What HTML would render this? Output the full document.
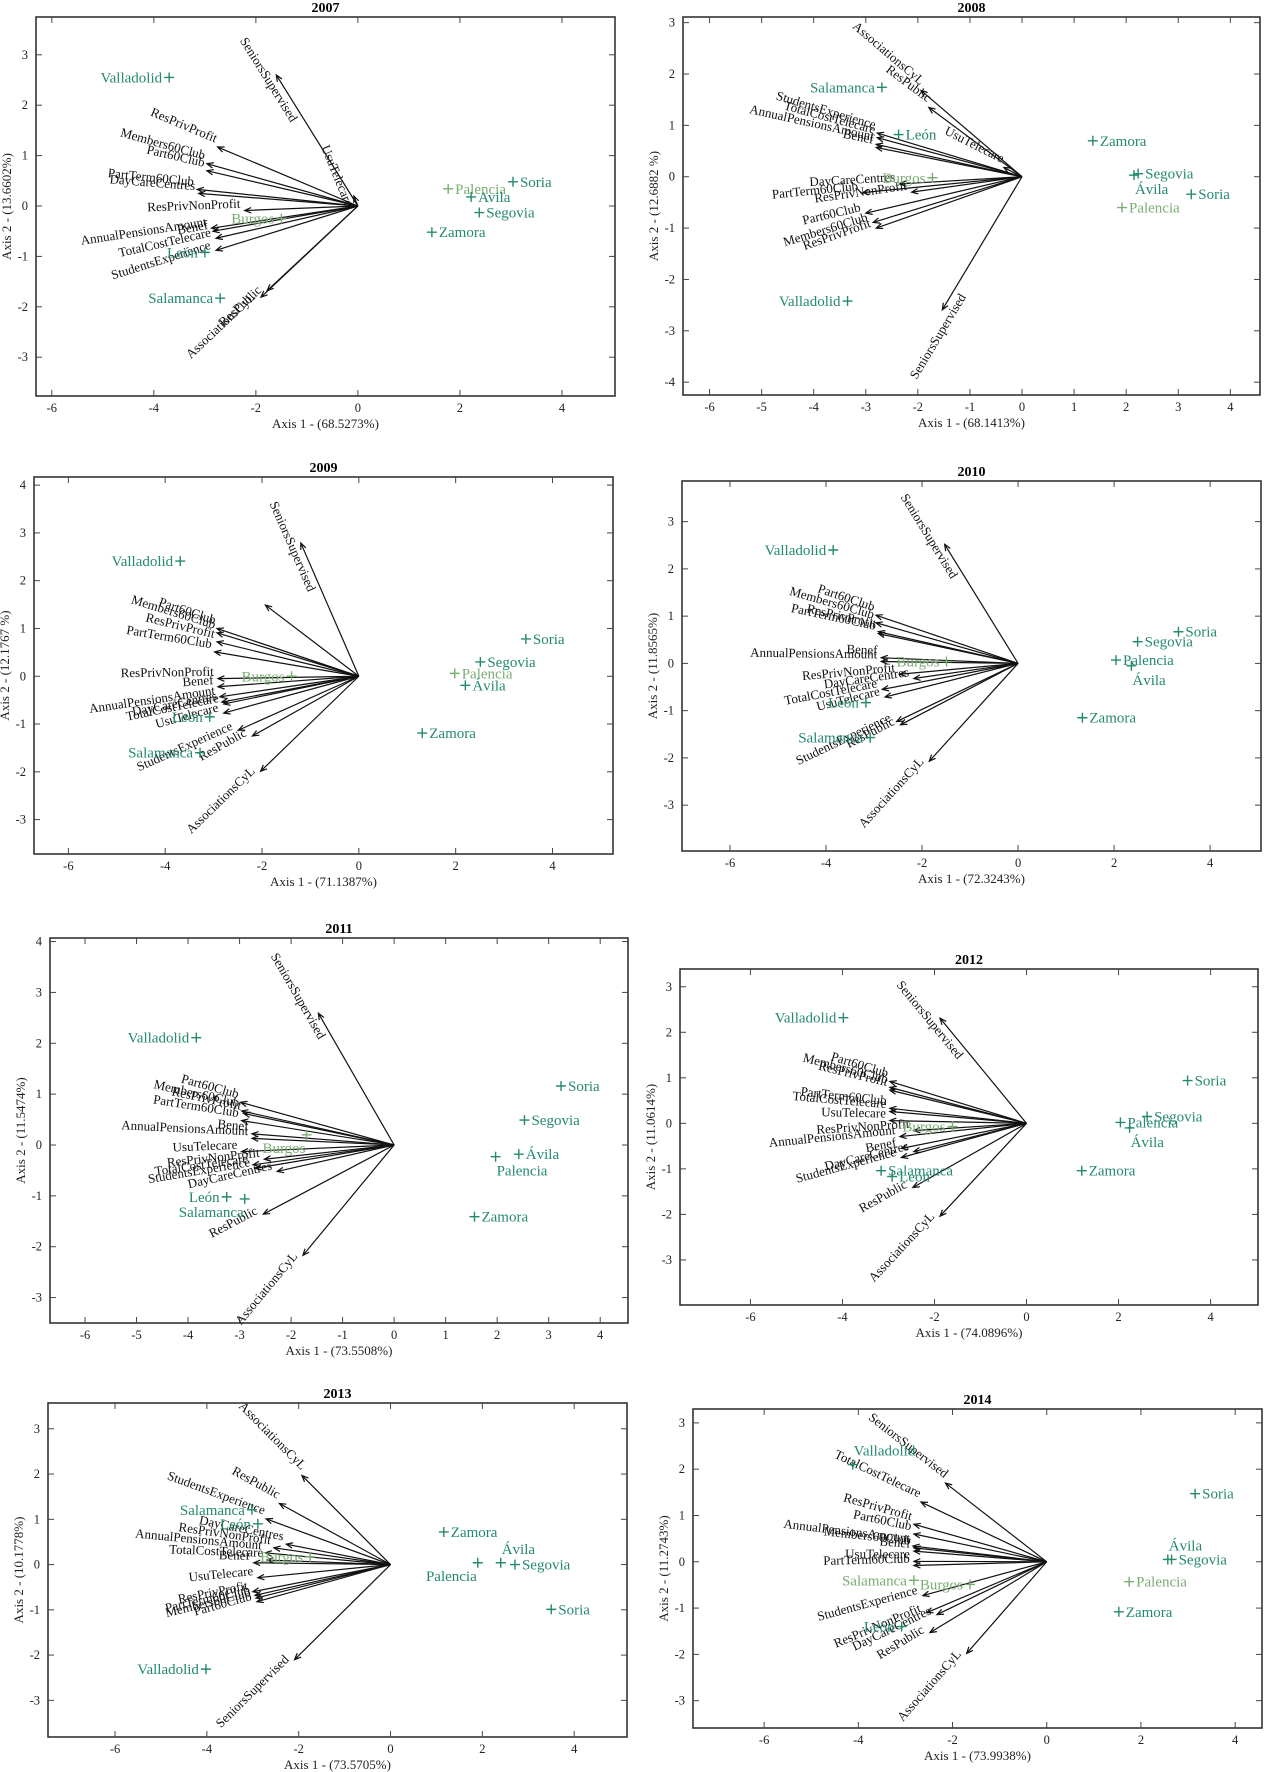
<!DOCTYPE html>
<html><head><meta charset="utf-8"><style>
html,body{margin:0;padding:0;background:#fff;}
svg{display:block;font-family:"Liberation Serif",serif;}
</style></head><body>
<svg id="fig" width="1265" height="1772" viewBox="0 0 1265 1772" xmlns="http://www.w3.org/2000/svg"></svg>
<script>
// ---- data: variable arrows [label, axis1, axis2, (optional) centred-label shifts] ----
const arr2007 = [["SeniorsSupervised",-1.6,2.6,0,13],["UsuTelecare",-0.08,0.2,25,12],["ResPrivProfit",-2.75,1.17],["Members60Club",-2.96,0.84],["Part60Club",-2.96,0.70],["PartTerm60Club",-3.15,0.33],["DayCareCentres",-3.12,0.25],["ResPrivNonProfit",-2.22,-0.09],["AnnualPensionsAmount",-2.87,-0.44],["Benef",-2.84,-0.50],["TotalCostTelecare",-2.78,-0.64],["StudentsExperience",-2.78,-0.88],["ResPublic",-1.78,-1.68],["AssociationsCyL",-1.9,-1.81]];
const arr2008 = [["AssociationsCyL",-1.94,1.68],["ResPublic",-1.79,1.35],["StudentsExperience",-2.78,0.85],["TotalCostTelecare",-2.78,0.76],["AnnualPensionsAmount",-2.80,0.63],["Benef",-2.80,0.57],["UsuTelecare",-0.35,0.18],["DayCareCentres",-2.35,-0.14],["ResPrivNonProfit",-2.12,-0.30],["PartTerm60Club",-3.06,-0.31],["Part60Club",-3.0,-0.71],["Members60Club",-2.86,-0.89],["ResPrivProfit",-2.80,-1.0],["SeniorsSupervised",-1.53,-2.59,25,14]];
const arr2009 = [["SeniorsSupervised",-1.20,2.79,0,13],["",-1.93,1.49],["Part60Club",-2.93,1.0],["Members60Club",-2.93,0.91],["ResPrivProfit",-2.93,0.72],["PartTerm60Club",-2.98,0.51],["ResPrivNonProfit",-2.91,-0.05],["Benef",-2.91,-0.22],["AnnualPensionsAmount",-2.87,-0.43],["DayCareCentres",-2.83,-0.54],["TotalCostTelecare",-2.79,-0.58],["UsuTelecare",-2.79,-0.77],["StudentsExperience",-2.49,-1.13],["ResPublic",-2.2,-1.25],["AssociationsCyL",-2.03,-1.99]];
const arr2010 = [["SeniorsSupervised",-1.53,2.52,15,13],["Part60Club",-2.96,1.02],["Members60Club",-2.96,0.86],["ResPrivProfit",-2.91,0.67],["PartTerm60Club",-2.91,0.63],["Benef",-2.85,0.12],["AnnualPensionsAmount",-2.85,0.04],["ResPrivNonProfit",-2.47,-0.23],["DayCareCentres",-2.17,-0.32],["TotalCostTelecare",-2.83,-0.55],["UsuTelecare",-2.77,-0.71],["StudentsExperience",-2.53,-1.23],["ResPublic",-2.45,-1.3],["AssociationsCyL",-1.85,-2.07]];
const arr2011 = [["SeniorsSupervised",-1.47,2.59,25,13],["Part60Club",-2.98,0.84],["Members60Club",-2.96,0.67],["ResPrivProfit",-2.92,0.62],["PartTerm60Club",-2.96,0.48],["Benef",-2.76,0.22],["AnnualPensionsAmount",-2.76,0.13],["UsuTelecare",-2.96,-0.13],["ResPrivNonProfit",-2.52,-0.28],["TotalCostTelecare",-2.74,-0.39],["StudentsExperience",-2.70,-0.46],["DayCareCentres",-2.27,-0.52],["ResPublic",-2.54,-1.36],["AssociationsCyL",-1.77,-2.17]];
const arr2012 = [["SeniorsSupervised",-1.88,2.31,5,13],["Part60Club",-2.97,0.92],["Members60Club",-2.97,0.79],["ResPrivProfit",-2.97,0.73],["PartTerm60Club",-2.97,0.33],["TotalCostTelecare",-2.97,0.26],["UsuTelecare",-2.97,0.06],["ResPrivNonProfit",-2.45,-0.16],["AnnualPensionsAmount",-2.75,-0.29],["Benef",-2.72,-0.55],["DayCareCentres",-2.45,-0.62],["StudentsExperience",-2.72,-0.75],["ResPublic",-2.47,-1.41],["AssociationsCyL",-1.88,-2.04]];
const arr2013 = [["AssociationsCyL",-1.93,1.97],["ResPublic",-2.42,1.35],["StudentsExperience",-2.71,1.01],["DayCareCentres",-2.27,0.45],["ResPrivNonProfit",-2.54,0.37],["AnnualPensionsAmount",-2.73,0.26],["TotalCostTelecare",-2.69,0.10],["Benef",-2.98,0.04],["UsuTelecare",-2.89,-0.29],["ResPrivProfit",-3.0,-0.60],["PartTerm60Club",-2.95,-0.68],["Members60Club",-2.93,-0.74],["Part60Club",-2.91,-0.82],["SeniorsSupervised",-2.09,-2.10]];
const arr2014 = [["SeniorsSupervised",-2.15,1.70],["TotalCostTelecare",-2.67,1.29],["ResPrivProfit",-2.82,0.81],["Part60Club",-2.82,0.60],["AnnualPensionsAmount",-2.84,0.34],["Members60Club",-2.82,0.30],["Benef",-2.82,0.23],["UsuTelecare",-2.82,0.01],["PartTerm60Club",-2.82,-0.08],["StudentsExperience",-2.63,-0.73],["ResPrivNonProfit",-2.55,-1.10],["DayCareCentres",-2.33,-1.14],["ResPublic",-2.48,-1.53],["AssociationsCyL",-1.70,-1.98]];
// ---- data: provinces [name, axis1, axis2, labelSide, light] ----
const city2007 = [["Valladolid",-3.70,2.55,"L",0],["Palencia",1.77,0.34,"R",1],["Soria",3.04,0.48,"R",0],["Avila",2.22,0.18,"R",0],["Segovia",2.38,-0.13,"R",0],["Zamora",1.45,-0.52,"R",0],["Burgos",-1.5,-0.25,"L",1],["León",-3.0,-0.92,"L",0],["Salamanca",-2.70,-1.83,"L",0]];
const city2008 = [["Salamanca",-2.69,1.74,"L",0],["León",-2.37,0.82,"R",0],["Zamora",1.36,0.70,"R",0],["Segovia",2.23,0.06,"R",0],["Ávila",2.15,0.03,"B",0],["Soria",3.25,-0.34,"R",0],["Palencia",1.92,-0.60,"R",1],["Burgos",-1.72,-0.02,"L",1],["Valladolid",-3.35,-2.42,"L",0]];
const city2009 = [["Valladolid",-3.69,2.41,"L",0],["Soria",3.45,0.78,"R",0],["Segovia",2.51,0.30,"R",0],["Palencia",1.98,0.06,"R",1],["Ávila",2.20,-0.19,"R",0],["Zamora",1.31,-1.19,"R",0],["Burgos",-1.39,0.0,"L",1],["León",-3.08,-0.85,"L",0],["Salamanca",-3.28,-1.60,"L",0]];
const city2010 = [["Valladolid",-3.85,2.40,"L",0],["Soria",3.34,0.67,"R",0],["Segovia",2.49,0.46,"R",0],["Palencia",2.04,0.07,"R",0],["Ávila",2.36,-0.05,"B",0],["Zamora",1.34,-1.15,"R",0],["Burgos",-1.49,0.04,"L",1],["León",-3.17,-0.83,"L",0],["Salamanca",-3.08,-1.57,"L",0]];
const city2011 = [["Valladolid",-3.84,2.11,"L",0],["Soria",3.24,1.16,"R",0],["Segovia",2.53,0.49,"R",0],["Ávila",2.42,-0.18,"R",0],["Palencia",1.97,-0.23,"B",0],["Zamora",1.56,-1.41,"R",0],["Burgos",-1.70,0.20,"BL",1],["León",-3.25,-1.02,"L",0],["Salamanca",-2.90,-1.06,"BL",0]];
const city2012 = [["Valladolid",-3.98,2.32,"L",0],["Soria",3.50,0.94,"R",0],["Segovia",2.62,0.15,"R",0],["Palencia",2.04,0.02,"R",0],["Ávila",2.24,-0.10,"B",0],["Zamora",1.20,-1.04,"R",0],["Burgos",-1.61,-0.07,"L",1],["Salamanca",-3.16,-1.04,"R",0],["León",-2.92,-1.17,"R",0]];
const city2013 = [["Salamanca",-3.02,1.21,"L",0],["León",-2.89,0.90,"L",0],["Zamora",1.16,0.72,"R",0],["Ávila",2.40,0.04,"A",0],["Segovia",2.71,0.0,"R",0],["Palencia",1.90,0.04,"BL",0],["Soria",3.50,-0.99,"R",0],["Valladolid",-4.02,-2.31,"L",0],["Burgos",-1.75,0.17,"L",1]];
const city2014 = [["Valladolid",-4.12,2.10,"A",0],["Soria",3.15,1.47,"R",0],["Ávila",2.57,0.05,"A",0],["Segovia",2.65,0.05,"R",0],["Palencia",1.75,-0.43,"R",1],["Zamora",1.53,-1.08,"R",0],["Salamanca",-2.82,-0.40,"L",1],["Burgos",-1.63,-0.49,"L",1],["León",-3.08,-1.40,"L",0]];
// ---- tick values and axis titles ----
const xTicks2 = [-6,-4,-2,0,2,4];
const xTicks1 = [-6,-5,-4,-3,-2,-1,0,1,2,3,4];
const yTicks33 = [-3,-2,-1,0,1,2,3];
const yTicks43 = [-4,-3,-2,-1,0,1,2,3];
const yTicks34 = [-3,-2,-1,0,1,2,3,4];
const years = ["2007","2008","2009","2010","2011","2012","2013","2014"];
const axis1Titles = ["Axis 1 - (68.5273%)","Axis 1 - (68.1413%)","Axis 1 - (71.1387%)","Axis 1 - (72.3243%)","Axis 1 - (73.5508%)","Axis 1 - (74.0896%)","Axis 1 - (73.5705%)","Axis 1 - (73.9938%)"];
const axis2Titles = ["Axis 2 - (13.6602%)","Axis 2 - (12.6882 %)","Axis 2 - (12.1767 %)","Axis 2 - (11.8565%)","Axis 2 - (11.5474%)","Axis 2 - (11.0614%)","Axis 2 - (10.1778%)","Axis 2 - (11.2743%)"];

// ---- layout (pixel frames, domains) ----
const panels = [
 {arr:arr2007,city:city2007,xt:xTicks2,yt:yTicks33,L:36,R:615,T:17,B:396,xd:[-6.31,5.04],yd:[-3.77,3.75]},
 {arr:arr2008,city:city2008,xt:xTicks1,yt:yTicks43,L:683,R:1260,T:17,B:395,xd:[-6.51,4.57],yd:[-4.25,3.11]},
 {arr:arr2009,city:city2009,xt:xTicks2,yt:yTicks34,L:34,R:613,T:477,B:854,xd:[-6.71,5.25],yd:[-3.72,4.17]},
 {arr:arr2010,city:city2010,xt:xTicks2,yt:yTicks33,L:682,R:1261,T:481,B:851,xd:[-7.0,5.06],yd:[-3.97,3.86]},
 {arr:arr2011,city:city2011,xt:xTicks1,yt:yTicks34,L:50,R:628,T:938,B:1323,xd:[-6.68,4.54],yd:[-3.50,4.07]},
 {arr:arr2012,city:city2012,xt:xTicks2,yt:yTicks33,L:680,R:1258,T:969,B:1305,xd:[-7.53,5.03],yd:[-3.99,3.39]},
 {arr:arr2013,city:city2013,xt:xTicks2,yt:yTicks33,L:48,R:627,T:1403,B:1737,xd:[-7.46,5.15],yd:[-3.81,3.57]},
 {arr:arr2014,city:city2014,xt:xTicks2,yt:yTicks33,L:693,R:1262,T:1409,B:1728,xd:[-7.51,4.57],yd:[-3.59,3.30]}
];
const NS="http://www.w3.org/2000/svg";
const svg=document.getElementById("fig");
function mk(tag,attrs,parent){const e=document.createElementNS(NS,tag);for(const k in attrs)e.setAttribute(k,attrs[k]);(parent||svg).appendChild(e);return e;}
const TEAL="#24896f", LIGHT="#7aad72";

panels.forEach((p,i)=>{
  const g=mk("g",{});
  
  
  const sx=v=>p.L+(v-p.xd[0])/(p.xd[1]-p.xd[0])*(p.R-p.L);
  const sy=v=>p.B-(v-p.yd[0])/(p.yd[1]-p.yd[0])*(p.B-p.T);
  const t=mk("text",{x:(p.L+p.R)/2,y:p.T-5,"text-anchor":"middle","font-size":"14","font-weight":"bold"},g);
  t.textContent=years[i];
  
  
  const fr=mk("rect",{x:p.L,y:p.T,width:p.R-p.L,height:p.B-p.T,fill:"none",stroke:"#333","stroke-width":"1.6"},g);
  
  
  p.xt.forEach(v=>{
    const x=sx(v);
    mk("line",{x1:x,y1:p.B,x2:x,y2:p.B-6,stroke:"#444"},g);
    mk("line",{x1:x,y1:p.T,x2:x,y2:p.T+6,stroke:"#444"},g);
    const tl=mk("text",{x:x,y:p.B+16,"text-anchor":"middle","font-size":"12.5",fill:"#222"},g);
    tl.textContent=String(v);
    
    
  });
  p.yt.forEach(v=>{
    const y=sy(v);
    mk("line",{x1:p.L,y1:y,x2:p.L+6,y2:y,stroke:"#444"},g);
    mk("line",{x1:p.R,y1:y,x2:p.R-6,y2:y,stroke:"#444"},g);
    const tl=mk("text",{x:p.L-8,y:y+4,"text-anchor":"end","font-size":"12.5",fill:"#222"},g);
    tl.textContent=String(v);
    
    
  });
  const xt=mk("text",{x:(p.L+p.R)/2,y:p.B+32,"text-anchor":"middle","font-size":"13",fill:"#222"},g);
  xt.textContent=axis1Titles[i];
  
  
  const yx=p.L-25, yy=(p.T+p.B)/2;
  const yt=mk("text",{x:yx,y:yy,"text-anchor":"middle","font-size":"13",fill:"#222",transform:`rotate(-90 ${yx} ${yy})`},g);
  yt.textContent=axis2Titles[i];
  
  
  const ox=sx(0), oy=sy(0);
  p.arr.forEach(a=>{
    const tx=sx(a[1]), ty=sy(a[2]);
    const ang=Math.atan2(oy-ty,ox-tx);
    const h=7, w=0.4;
    const ln=mk("path",{d:`M${ox},${oy}L${tx},${ty}M${tx+h*Math.cos(ang+w)},${ty+h*Math.sin(ang+w)}L${tx},${ty}L${tx+h*Math.cos(ang-w)},${ty+h*Math.sin(ang-w)}`,stroke:"#111","stroke-width":"1.2",fill:"none"},g);
    
    
    if(a[0]){
      const deg=ang*180/Math.PI;
      let attrs;
      if(a.length>3){
        attrs={x:tx-a[3],y:ty+a[4],"text-anchor":"middle"};
      } else {
        attrs={x:tx-4,y:ty-3,"text-anchor":"end"};
      }
      attrs["font-size"]="13"; attrs.fill="#111"; attrs.transform=`rotate(${deg} ${tx} ${ty})`;
      const lb=mk("text",attrs,g);
      lb.textContent=a[0];
      
      
    }
  });
  p.city.forEach(c=>{
    const x=sx(c[1]), y=sy(c[2]);
    const col=c[4]?LIGHT:TEAL;
    const pl=mk("path",{d:`M${x-5},${y}L${x+5},${y}M${x},${y-5}L${x},${y+5}`,stroke:col,"stroke-width":"1.4"},g);
    
    
    let lx=x+7, ly=y+5, anc="start";
    if(c[3]==="L"){lx=x-7;anc="end";}
    else if(c[3]==="B"){lx=x+1;ly=y+19;}
    else if(c[3]==="BL"){lx=x-1;ly=y+18;anc="end";}
    else if(c[3]==="A"){lx=x+1;ly=y-9;}
    const lb=mk("text",{x:lx,y:ly,"text-anchor":anc,"font-size":"15",fill:col},g);
    lb.textContent=c[0];
    
    
  });
});
</script>
</body></html>
